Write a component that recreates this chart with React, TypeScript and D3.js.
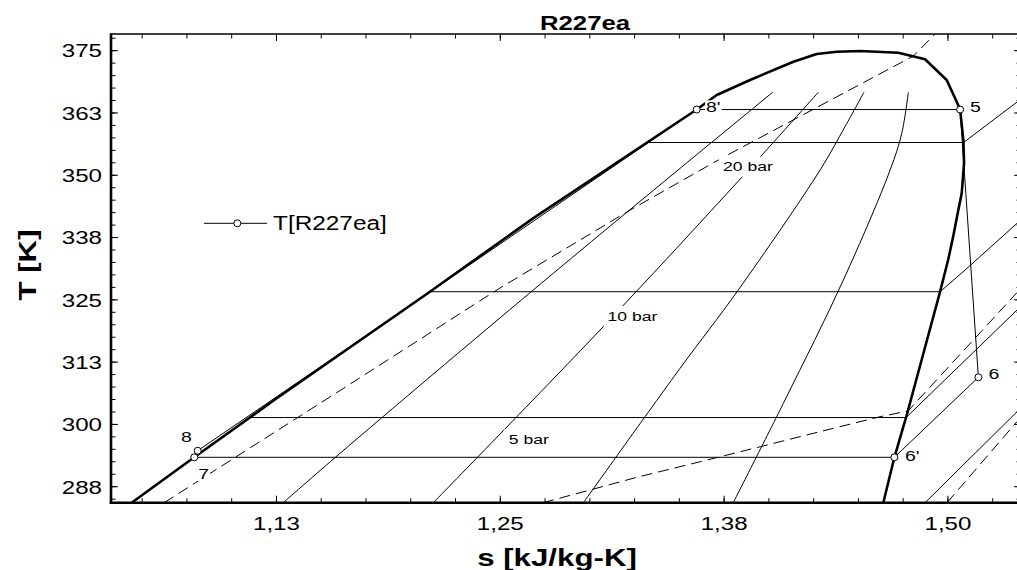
import React from 'react';
import * as d3 from 'd3';

// ---------- data ----------
// saturation dome: liquid side -> critical region -> vapour side
const domeS = [1.0441, 1.0791, 1.1238, 1.2107, 1.2683, 1.3597, 1.3709, 1.3895, 1.4137, 1.4267, 1.4379, 1.4509, 1.4723, 1.4872, 1.4993, 1.5040, 1.5068, 1.5086, 1.5090, 1.5077, 1.5058, 1.5031, 1.5001, 1.4956, 1.4770, 1.4701, 1.4639];
const domeT = [284.29, 293.40, 304.90, 326.63, 341.36, 363.19, 366.10, 369.12, 372.79, 374.33, 374.80, 374.94, 374.59, 373.27, 369.12, 365.44, 363.19, 357.07, 352.46, 346.38, 343.03, 338.01, 332.99, 326.63, 301.89, 293.40, 284.29];

// lines of constant quality inside the dome
const q1S = [1.1288, 1.1605, 1.2684, 1.3504, 1.4021];
const q1T = [284.29, 294.20, 326.97, 351.39, 366.65];
const q2S = [1.2126, 1.3075, 1.3850, 1.4276];
const q2T = [284.29, 319.61, 349.65, 366.65];
const q3S = [1.2964, 1.3504, 1.3829, 1.4286, 1.4425, 1.4531];
const q3T = [284.29, 311.26, 326.97, 351.05, 359.74, 366.65];
const q4S = [1.3801, 1.4090, 1.4416, 1.4677, 1.4742, 1.4779];
const q4T = [284.29, 304.90, 328.98, 351.05, 358.42, 366.65];

// isobars
const p20S = [1.3316, 1.5087, 1.5386];
const p20T = [356.57, 356.57, 364.70];
const p10S = [1.2107, 1.4956, 1.5096, 1.5386];
const p10T = [326.63, 326.63, 330.99, 340.36];
const p5S = [1.1108, 1.4766, 1.5386];
const p5T = [301.38, 301.38, 322.96];
const pLowS = [1.4872, 1.5386];
const pLowT = [284.29, 302.55];

// isochores (dashed)
const v1S = [1.0623, 1.1605, 1.2498, 1.3206, 1.3727, 1.4062, 1.4807, 1.4928];
const v1T = [284.29, 306.80, 327.37, 342.62, 353.26, 359.68, 373.93, 378.35];
const v2S = [1.2739, 1.3001, 1.3262, 1.3671, 1.3951, 1.4248, 1.4621, 1.4777, 1.5386];
const v2T = [284.29, 286.84, 289.38, 293.00, 295.52, 298.21, 301.55, 302.69, 326.47];
const v3S = [1.4995, 1.5386];
const v3T = [284.29, 300.58];

// isobar labels
const barLabels = ['20 bar', '10 bar', '5 bar'];
const barLabelS = [1.3883, 1.3238, 1.2659];
const barLabelT = [351.72, 321.75, 297.01];

// cycle state points T[R227ea]
const cycleLabels = ['5', '6', "6'", '7', '8', "8'"];
const cycleS = [1.5068, 1.5170, 1.4701, 1.0791, 1.0810, 1.3597];
const cycleT = [363.19, 309.45, 293.40, 293.40, 294.72, 363.19];

// axes
const sDomain = [1.0326, 1.5408];
const tDomain = [284.29, 378.35];
const xTickValues = [1.125, 1.25, 1.375, 1.5];
const xTickLabels = ['1,13', '1,25', '1,38', '1,50'];
const yTickValues = [287.5, 300, 312.5, 325, 337.5, 350, 362.5, 375];
const yTickLabels = ['288', '300', '313', '325', '338', '350', '363', '375'];

// ---------- layout ----------
const W = 1017, H = 570;
const L = 111, R = 1021, TOP = 34, BOT = 502.7;
const FONT = 'Liberation Sans, Arial, Helvetica, sans-serif';

const labelOffsets: Record<string, [number, number]> = {
  '5': [10, 2.5],
  '6': [10, 1.7],
  "6'": [10.5, 3.7],
  '7': [4, 21.7],
  '8': [-16.7, -9],
  "8'": [9.3, 2.3],
};

function Txt(props: { x: number; y: number; size: number; sx?: number; bold?: boolean; anchor?: string; rotate?: number; children: any }) {
  const { x, y, size, sx = 1.3, bold = false, anchor = 'start', rotate = 0, children } = props;
  return (
    <text
      transform={`translate(${x},${y})${rotate ? ` rotate(${rotate})` : ''} scale(${sx},1)`}
      fontFamily={FONT}
      fontSize={size}
      fontWeight={bold ? 'bold' : 'normal'}
      textAnchor={anchor as any}
      fill="#000"
    >
      {children}
    </text>
  );
}

export default function App() {
  const x = d3.scaleLinear().domain(sDomain).range([L, R]);
  const y = d3.scaleLinear().domain(tDomain).range([BOT, TOP]);

  const path = (S: number[], T: number[], curve: any = d3.curveLinear) =>
    d3.line<number>().x((_, i) => x(S[i])).y((_, i) => y(T[i])).curve(curve)(S) || '';

  const smooth = d3.curveCatmullRom.alpha(0.5);

  const xMinor = d3.range(1.05, 1.54, 0.025);
  const yMinor = d3.range(285, 378.3, 2.5);

  const cycleClosed = [...cycleS, cycleS[0]];
  const cycleClosedT = [...cycleT, cycleT[0]];

  const ptSize = 15, ptSx = 1.3;
  const barSize = 13.5, barSx = 1.3;

  return (
    <svg width={W} height={H} style={{ position: 'absolute', left: 0, top: 0, background: '#fff' }}>
      <defs>
        <clipPath id="plot">
          <rect x={L} y={TOP} width={R - L} height={BOT - TOP} />
        </clipPath>
      </defs>
      <rect x={0} y={0} width={W} height={H} fill="#fff" />

      <g clipPath="url(#plot)" fill="none" stroke="#000">
        {/* quality lines */}
        {[[q1S, q1T], [q2S, q2T], [q3S, q3T], [q4S, q4T]].map(([S, T], i) => (
          <path key={'q' + i} d={path(S, T, smooth)} strokeWidth={1} />
        ))}
        {/* isobars */}
        {[[p20S, p20T], [p10S, p10T], [p5S, p5T], [pLowS, pLowT]].map(([S, T], i) => (
          <path key={'p' + i} d={path(S, T)} strokeWidth={1} />
        ))}
        {/* isochores */}
        {[[v1S, v1T], [v2S, v2T], [v3S, v3T]].map(([S, T], i) => (
          <path key={'v' + i} d={path(S, T)} strokeWidth={1} strokeDasharray="11,6" />
        ))}
        {/* saturation dome */}
        <path d={path(domeS, domeT)} strokeWidth={2.6} strokeLinejoin="round" />
        {/* cycle */}
        <path d={path(cycleClosed, cycleClosedT)} strokeWidth={1} />
      </g>

      {/* isobar labels */}
      {barLabels.map((t, i) => {
        const cx = x(barLabelS[i]);
        const cy = y(barLabelT[i]);
        const w = t.length * 0.5 * barSize * barSx;
        return (
          <g key={'bl' + i}>
            <rect x={cx - w / 2 - 3} y={cy - 10} width={w + 6} height={20} fill="#fff" />
            <Txt x={cx} y={cy + 4.8} size={barSize} sx={barSx} anchor="middle">{t}</Txt>
          </g>
        );
      })}

      {/* cycle markers and labels */}
      {cycleLabels.map((t, i) => {
        const px = x(cycleS[i]);
        const py = y(cycleT[i]);
        const [dx, dy] = labelOffsets[t];
        const w = (t.length > 1 ? 0.75 : 0.556) * ptSize * ptSx;
        return (
          <g key={'c' + i}>
            <rect x={px + dx - 1} y={py + dy - 11.5} width={w + 2} height={13.5} fill="#fff" />
            <Txt x={px + dx} y={py + dy} size={ptSize} sx={ptSx}>{t}</Txt>
          </g>
        );
      })}
      {cycleLabels.map((t, i) => (
        <circle key={'m' + i} cx={x(cycleS[i])} cy={y(cycleT[i])} r={3.5} fill="#fff" stroke="#000" strokeWidth={1} />
      ))}

      {/* legend */}
      <line x1={204} x2={267} y1={223.3} y2={223.3} stroke="#000" strokeWidth={1} />
      <circle cx={237.3} cy={223.3} r={3.5} fill="#fff" stroke="#000" strokeWidth={1} />
      <Txt x={273} y={230} size={19.5} sx={1.25}>T[R227ea]</Txt>

      {/* frame */}
      <line x1={L} x2={R} y1={TOP} y2={TOP} stroke="#000" strokeWidth={1.5} />
      <line x1={R} x2={R} y1={TOP} y2={BOT} stroke="#000" strokeWidth={1.5} />
      <line x1={L} x2={L} y1={TOP - 0.75} y2={BOT + 1.3} stroke="#000" strokeWidth={2.6} />
      <line x1={L - 1.3} x2={R} y1={BOT} y2={BOT} stroke="#000" strokeWidth={2.6} />

      {/* x ticks */}
      {xMinor.map((v, i) => (
        <g key={'xm' + i} stroke="#000" strokeWidth={1}>
          <line x1={x(v)} x2={x(v)} y1={BOT} y2={BOT - 4.5} />
          <line x1={x(v)} x2={x(v)} y1={TOP} y2={TOP + 4.5} />
        </g>
      ))}
      {xTickValues.map((v, i) => (
        <g key={'xM' + i}>
          <line x1={x(v)} x2={x(v)} y1={BOT} y2={BOT - 7} stroke="#000" strokeWidth={1} />
          <line x1={x(v)} x2={x(v)} y1={TOP} y2={TOP + 7} stroke="#000" strokeWidth={1} />
          <Txt x={x(v)} y={530} size={19} sx={1.27} anchor="middle">{xTickLabels[i]}</Txt>
        </g>
      ))}

      {/* y ticks */}
      {yMinor.map((v, i) => (
        <g key={'ym' + i} stroke="#000" strokeWidth={1}>
          <line x1={L} x2={L + 4.5} y1={y(v)} y2={y(v)} />
          <line x1={R} x2={R - 4.5} y1={y(v)} y2={y(v)} />
        </g>
      ))}
      {yTickValues.map((v, i) => (
        <g key={'yM' + i}>
          <line x1={L} x2={L + 7} y1={y(v)} y2={y(v)} stroke="#000" strokeWidth={1} />
          <line x1={R} x2={R - 7} y1={y(v)} y2={y(v)} stroke="#000" strokeWidth={1} />
          <Txt x={102} y={y(v) + 6.8} size={19} sx={1.27} anchor="end">{yTickLabels[i]}</Txt>
        </g>
      ))}

      {/* titles */}
      <Txt x={585} y={30} size={19.5} sx={1.32} bold anchor="middle">R227ea</Txt>
      <Txt x={557} y={566} size={23.5} sx={1.33} bold anchor="middle">s [kJ/kg-K]</Txt>
      <Txt x={36} y={265} size={23.5} sx={1.33} bold anchor="middle" rotate={-90}>T [K]</Txt>
    </svg>
  );
}
